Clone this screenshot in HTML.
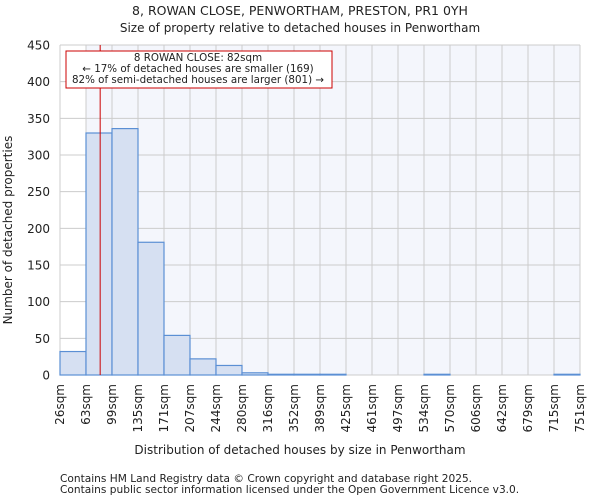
<!DOCTYPE html>
<html><head><meta charset="utf-8"><style>
body{margin:0;background:#fff;font-family:"DejaVu Sans","Liberation Sans",sans-serif;}
text{font-family:"DejaVu Sans","Liberation Sans",sans-serif;fill:#222;}
</style></head><body>
<svg id="chart" width="600" height="500" viewBox="0 0 600 500" xmlns="http://www.w3.org/2000/svg">
<text x="300" y="15" font-size="12.5" text-anchor="middle">8, ROWAN CLOSE, PENWORTHAM, PRESTON, PR1 0YH</text>
<text x="300" y="32" font-size="12" text-anchor="middle">Size of property relative to detached houses in Penwortham</text>
<rect x="60" y="45" width="520" height="330" fill="#f4f6fc"/>
<rect x="60" y="45" width="26" height="330" fill="#ffffff"/>
<g id="grid"></g>
<g id="bars"></g>
<g id="yticks"></g>
<g id="xticks"></g>
<line id="marker" y1="45" y2="375" stroke="#cc0000" stroke-width="1"/>
<g>
<rect x="66" y="51" width="266" height="37" fill="#fff" stroke="#cc0000" stroke-width="1"/>
<text x="198" y="61" font-size="10.3" text-anchor="middle">8 ROWAN CLOSE: 82sqm</text>
<text x="198" y="72" font-size="10.3" text-anchor="middle">← 17% of detached houses are smaller (169)</text>
<text x="198" y="83" font-size="10.3" text-anchor="middle">82% of semi-detached houses are larger (801) →</text>
</g>
<text transform="translate(12,230) rotate(-90)" font-size="12" text-anchor="middle">Number of detached properties</text>
<text x="300" y="454" font-size="12" text-anchor="middle">Distribution of detached houses by size in Penwortham</text>
<text x="60" y="482" font-size="10.6">Contains HM Land Registry data © Crown copyright and database right 2025.</text>
<text x="60" y="493" font-size="10.6">Contains public sector information licensed under the Open Government Licence v3.0.</text>
</svg>
<script>
const tickLabels=["26sqm","63sqm","99sqm","135sqm","171sqm","207sqm","244sqm","280sqm","316sqm","352sqm","389sqm","425sqm","461sqm","497sqm","534sqm","570sqm","606sqm","642sqm","679sqm","715sqm","751sqm"];
const counts=[32,330,336,181,54,22,13,3,1,1,1,0,0,0,1,0,0,0,0,1];
const yTicks=[0,50,100,150,200,250,300,350,400,450];
const markerValue=82;
const NS="http://www.w3.org/2000/svg";
const x0=60,x1=580,yb=375,yt=45,yMax=450;
const bw=(x1-x0)/counts.length;
function xIdx(i){return x0+i*bw;}
function yS(v){return yb-v/yMax*(yb-yt);}
function xVal(v){const lo=parseFloat(tickLabels[0]),hi=parseFloat(tickLabels[tickLabels.length-1]);return x0+(v-lo)/(hi-lo)*(x1-x0);}
function mk(t,a,p){const e=document.createElementNS(NS,t);for(const k in a)e.setAttribute(k,a[k]);p.appendChild(e);return e;}
const grid=document.getElementById('grid'),bars=document.getElementById('bars'),yt_g=document.getElementById('yticks'),xt=document.getElementById('xticks');
yTicks.forEach(v=>{
 const l=mk('line',{x1:x0,x2:x1,y1:yS(v),y2:yS(v),stroke:'#cccccc','stroke-width':1},grid);
 
 
 const t=mk('text',{x:x0-10,y:yS(v)+4.5,'font-size':12,'text-anchor':'end'},yt_g);
 t.textContent=v;
 
 
});
tickLabels.forEach((s,i)=>{
 const x=xIdx(i);
 const l=mk('line',{x1:x,x2:x,y1:yt,y2:yb,stroke:'#cccccc','stroke-width':1},grid);
 
 
 const t=mk('text',{transform:`translate(${x+4},384) rotate(-90)`,'font-size':12,'text-anchor':'end'},xt);
 t.textContent=s;
 
 
});
counts.forEach((c,i)=>{
 const r=mk('rect',{x:xIdx(i),y:yS(c),width:bw,height:yb-yS(c),fill:'#d6e0f2',stroke:'#5b8fd4','stroke-width':1.2},bars);
 
 
});
const m=document.getElementById('marker');m.setAttribute('x1',xVal(markerValue));m.setAttribute('x2',xVal(markerValue));
</script>
</body></html>
